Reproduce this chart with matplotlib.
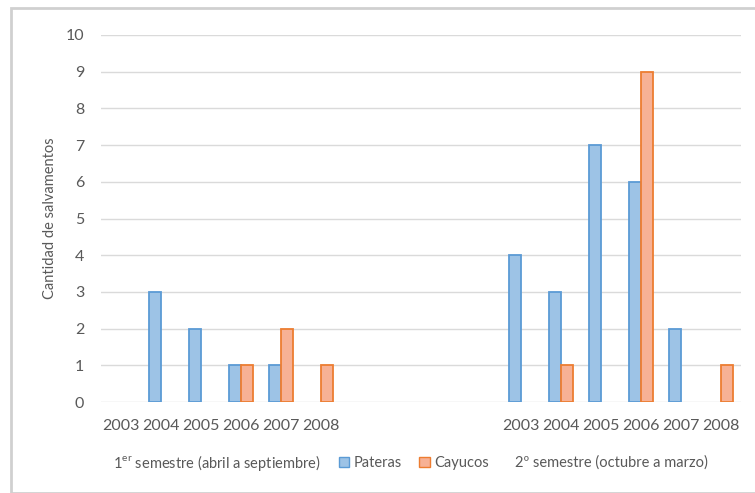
#!/usr/bin/env python
"""Salvamentos de pateras y cayucos por semestre (2003-2008)."""

import matplotlib

matplotlib.use("Agg")
import matplotlib.pyplot as plt
import numpy as np
from matplotlib.patches import Patch, Rectangle

# Data
years = ["2003", "2004", "2005", "2006", "2007", "2008"]
pateras_s1 = [0, 3, 2, 1, 1, 0]
cayucos_s1 = [0, 0, 0, 1, 2, 1]
pateras_s2 = [4, 3, 7, 6, 2, 0]
cayucos_s2 = [0, 1, 0, 9, 0, 1]
y_ticks = list(range(0, 11))

plt.rcParams["font.family"] = ["Lato", "DejaVu Sans"]
plt.rcParams["mathtext.fontset"] = "custom"
plt.rcParams["mathtext.rm"] = "Lato"

text_color = "#595959"
blue_face, blue_edge = "#9DC3E6", "#5B9BD5"
orange_face, orange_edge = "#F7B195", "#ED7D31"

fig = plt.figure(figsize=(7.55, 4.93), dpi=100)
fig.patches.append(
    Rectangle((11 / 755, 0), 1.0, 1 - 8 / 493, transform=fig.transFigure,
              fill=False, edgecolor="#D0D0D0", linewidth=2)
)
ax = fig.add_axes([101 / 755, 1 - 402 / 493, 640 / 755, 367 / 493])

# positions: first semester 0-5, gap, second semester 10-15
pos_s1 = np.arange(6)
pos_s2 = np.arange(6) + 10
width = 0.3


def draw(pos, vals, offset, face, edge):
    vals = np.array(vals)
    mask = vals > 0
    ax.bar(pos[mask] + offset, vals[mask], width=width, align="edge",
           color=face, edgecolor=edge, linewidth=1.3, zorder=3)


draw(pos_s1, pateras_s1, -width, blue_face, blue_edge)
draw(pos_s1, cayucos_s1, 0, orange_face, orange_edge)
draw(pos_s2, pateras_s2, -width, blue_face, blue_edge)
draw(pos_s2, cayucos_s2, 0, orange_face, orange_edge)

ax.set_xlim(-0.5, 15.5)
ax.set_ylim(0, 10)
ax.set_yticks(y_ticks)
ax.yaxis.grid(True, color="#DADADA", linewidth=1.0, zorder=0)
ax.set_axisbelow(True)
for s in ax.spines.values():
    s.set_visible(False)
ax.tick_params(axis="y", length=0, pad=12, labelsize=11.5, labelcolor=text_color)
ax.set_xticks(list(pos_s1) + list(pos_s2))
ax.set_xticklabels(years + years)
ax.tick_params(axis="x", length=0, pad=12, labelsize=11.5, labelcolor=text_color)

ax.set_ylabel("Cantidad de salvamentos", fontsize=10.5, color=text_color, labelpad=6)

# bottom row: semester titles and legend
y_row = 1 - 463 / 493
fig.text(113 / 755, y_row, r"1$^{\mathrm{er}}$ semestre (abril a septiembre)",
         fontsize=10.5, color=text_color, va="center", ha="left")
fig.text(515 / 755, y_row, "2º semestre (octubre a marzo)",
         fontsize=10.5, color=text_color, va="center", ha="left")
handles = [
    Patch(facecolor=blue_face, edgecolor=blue_edge, label="Pateras"),
    Patch(facecolor=orange_face, edgecolor=orange_edge, label="Cayucos"),
]
fig.legend(handles=handles, loc="center", bbox_to_anchor=(414 / 755, y_row),
           ncol=2, frameon=False, fontsize=10.5, labelcolor=text_color,
           handlelength=0.7, handleheight=0.7, handletextpad=0.3, columnspacing=1.2)

fig.savefig("out.png", dpi=100)
